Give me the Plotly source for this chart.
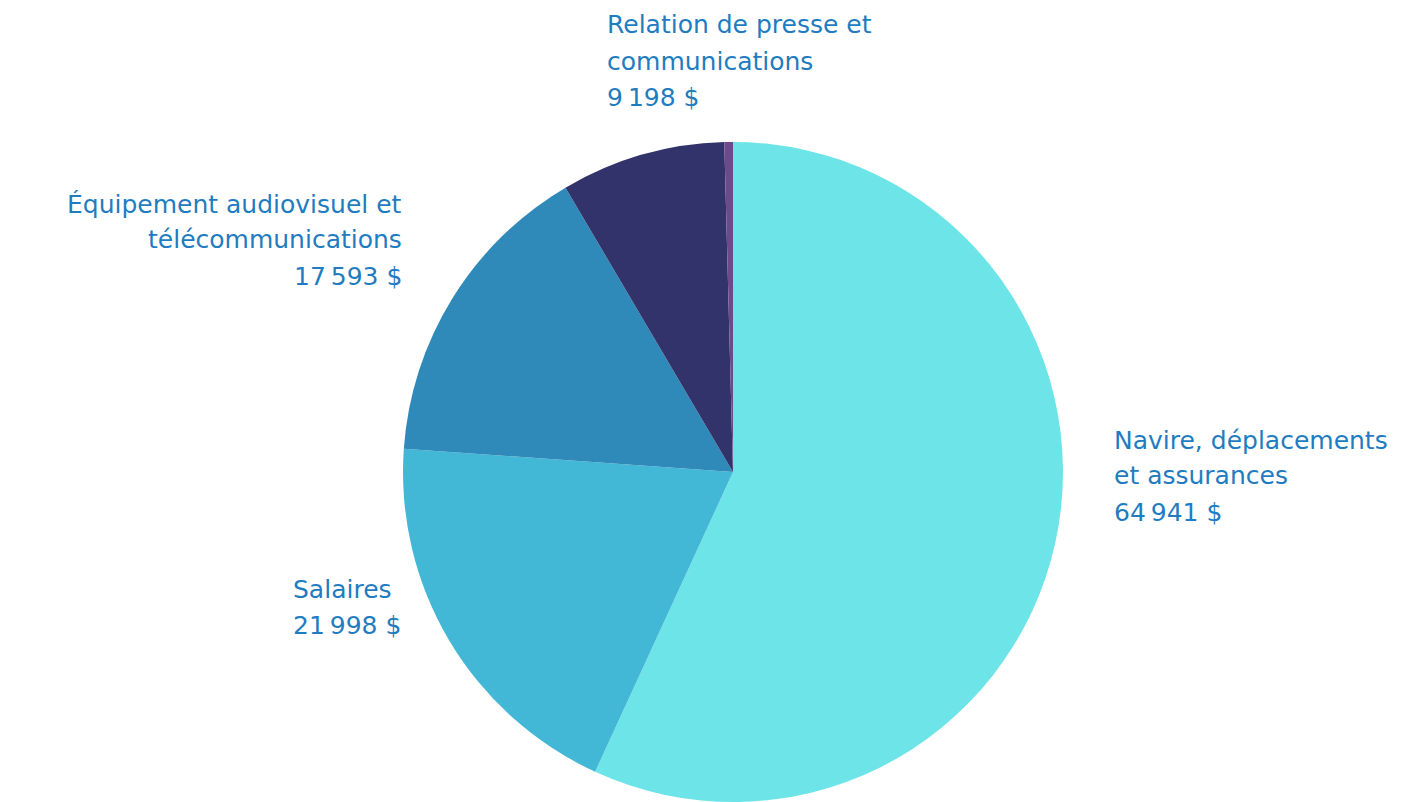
import plotly.graph_objects as go

categories = ["Navire, déplacements<br>et assurances", "Salaires",
              "Équipement audiovisuel et<br>télécommunications",
              "Relation de presse et<br>communications", "Autres"]
values = [64941, 21998, 17593, 9198, 480]
colors = ["#6de5e8", "#43b8d6", "#2f8aba", "#33336b", "#6e4a8c"]
show_label = [True, True, True, True, False]

W, H = 1418, 802
OFF = 8  # page body margin
fig = go.Figure(go.Pie(
    labels=categories, values=values, sort=False, direction="clockwise",
    rotation=0, marker=dict(colors=colors, line=dict(width=0)),
    textinfo="none", hoverinfo="label+value", showlegend=False,
    domain=dict(x=[(403 - OFF) / W, (1063 - OFF) / W],
                y=[1 - (802 - OFF) / H, 1 - (142 - OFF) / H]),
))

# label placement: (x px, first-line y px, anchor)
placements = [(1112, 440, "left"), (291, 589, "left"), (404, 204, "right"),
              (605, 25, "left"), None]
line_gap = 36
font = dict(family="DejaVu Sans", size=25, color="#1f7cc0")

def fmt(v):
    return f"{v:,}".replace(",", "\u202f") + " $"

annotations = []
for cat, val, show, pl in zip(categories, values, show_label, placements):
    if not show:
        continue
    lines = cat.split("<br>") + [fmt(val)]
    x, y0, anchor = pl
    for i, ln in enumerate(lines):
        annotations.append(dict(
            text=ln, x=(x - OFF) / W, y=1 - (y0 - OFF + i * line_gap) / H,
            xref="paper", yref="paper", xanchor=anchor, yanchor="middle",
            showarrow=False, font=font))

fig.update_layout(width=W, height=H, margin=dict(l=0, r=0, t=0, b=0),
                  paper_bgcolor="white", plot_bgcolor="white",
                  annotations=annotations)
fig.write_html("out.html")
